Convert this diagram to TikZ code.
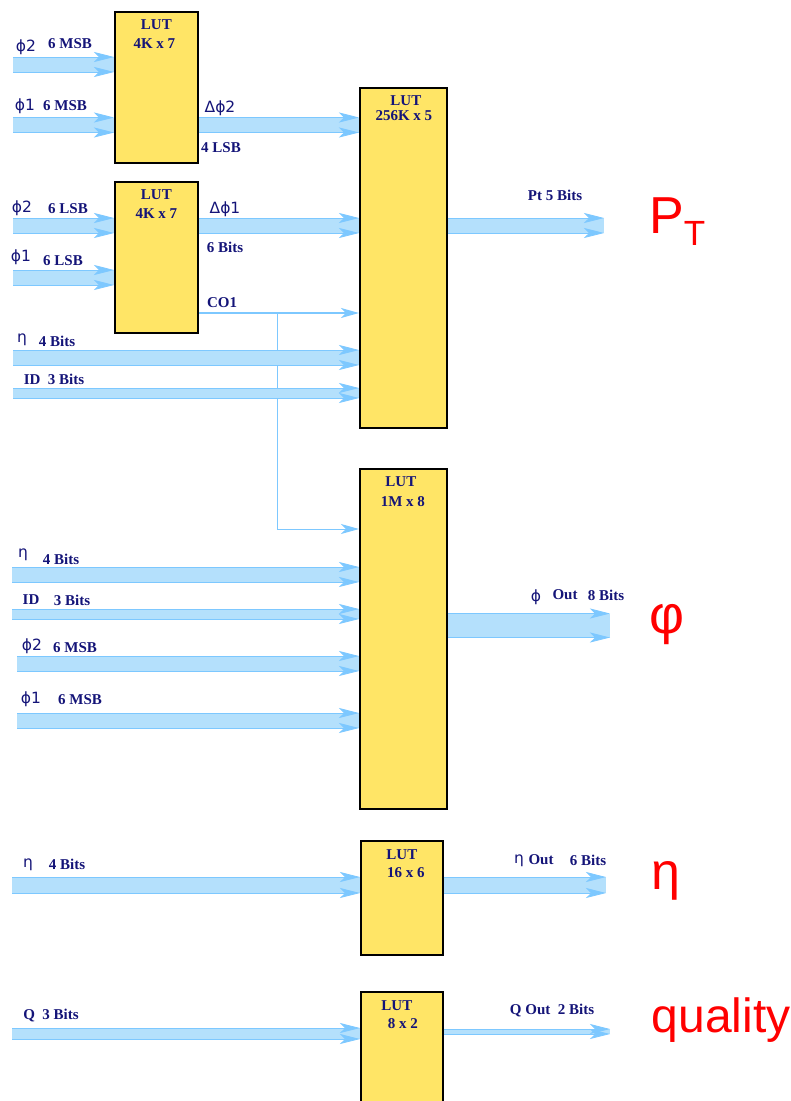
\documentclass[tikz,border=0pt]{standalone}
\usepackage{fontspec}
\setmainfont{Liberation Serif}
\newfontfamily\greekfont{DejaVu Sans}
\newfontfamily\redfont{Liberation Sans}
\usetikzlibrary{arrows.meta,calc}
\definecolor{busfill}{RGB}{180,224,252}
\definecolor{busedge}{RGB}{125,200,255}
\definecolor{lutyellow}{RGB}{255,229,102}
\definecolor{labnavy}{RGB}{20,20,120}
\tikzset{lut/.style={draw, line width=1.8pt, fill=lutyellow, anchor=north west, inner sep=0},
  bus/.style={draw=busfill, line width=#1pt,
    postaction={draw=busedge, line width=0.8pt, -{Stealth[length=20pt,width=10pt,inset=5pt]}, transform canvas={yshift=#1pt/2}},
    postaction={draw=busedge, line width=0.8pt, -{Stealth[length=20pt,width=10pt,inset=5pt]}, transform canvas={yshift=-#1pt/2}}},
  wire/.style={draw=busedge, line width=1pt},
  lbl/.style={font=\fontsize{15}{17}\selectfont\bfseries, text=labnavy, inner sep=0},
  gk/.style={font=\greekfont\fontsize{15.5}{17}\selectfont, text=labnavy, inner sep=0},
  big/.style={font=\redfont\fontsize{#1}{#1}\selectfont, text=red, inner sep=0}}

\begin{document}
\begin{tikzpicture}[x=1pt, y=-1pt]
  \useasboundingbox (0,0) rectangle (791,1101);
  % look-up tables
  \node[lut, minimum width=83pt, minimum height=151pt] (lutA) at (114,11) {};
  \node[lut, minimum width=83pt, minimum height=151pt] (lutB) at (114,181) {};
  \node[lut, minimum width=87pt, minimum height=340pt] (lutC) at (359,87) {};
  \node[lut, minimum width=87pt, minimum height=340pt] (lutD) at (359,468) {};
  \node[lut, minimum width=82pt, minimum height=114pt] (lutE) at (360,840) {};
  \node[lut, minimum width=82pt, minimum height=130pt] (lutF) at (360,991) {};
  \node[lbl] (tA1) at ($(lutA.north)+(0,14)$) {LUT};
  \node[lbl] (tA2) at ($(lutA.north)+(-2,33)$) {4K x 7};
  \node[lbl] (tB1) at ($(lutB.north)+(0,14)$) {LUT};
  \node[lbl] (tB2) at ($(lutB.north)+(0,33)$) {4K x 7};
  \node[lbl] (tC1) at ($(lutC.north)+(2.5,14)$) {LUT};
  \node[lbl] (tC2) at ($(lutC.north)+(0.5,29)$) {256K x 5};
  \node[lbl] (tD1) at ($(lutD.north)+(-2.5,14)$) {LUT};
  \node[lbl] (tD2) at ($(lutD.north)+(-0.5,34)$) {1M x 8};
  \node[lbl] (tE1) at ($(lutE.north)+(0,15)$) {LUT};
  \node[lbl] (tE2) at ($(lutE.north)+(4,33)$) {16 x 6};
  \node[lbl] (tF1) at ($(lutF.north)+(-5,15)$) {LUT};
  \node[lbl] (tF2) at ($(lutF.north)+(1,33)$) {8 x 2};

  % free ends
  \coordinate (inA2) at (13,64.5);
  \coordinate (inA1) at (13,125);
  \coordinate (inB2) at (13,225.5);
  \coordinate (inB1) at (13,277.5);
  \coordinate (etaC) at (13,357.5);
  \coordinate (idC) at (13,393);
  \coordinate (etaD) at (12,574.5);
  \coordinate (idD) at (12,614);
  \coordinate (phiD2) at (17,663.5);
  \coordinate (phiD1) at (17,720.5);
  \coordinate (etaE) at (12,885);
  \coordinate (qF) at (12,1033.5);
  \coordinate (ptOut) at (604,225.5);
  \coordinate (phiOut) at (610,625.5);
  \coordinate (etaOut) at (606,885);
  \coordinate (qOut) at (610,1031.5);
  \coordinate (dphiB) at (0,125);
  \coordinate (co) at (277,313);
  \coordinate (coDown) at (277,529);

  % buses
  \draw[bus=15] (inA2) -- (inA2 -| lutA.west);
  \draw[bus=15] (inA1) -- (inA1 -| lutA.west);
  \draw[bus=15] (dphiB -| lutA.east) -- (dphiB -| lutC.west);
  \draw[bus=15] (inB2) -- (inB2 -| lutB.west);
  \draw[bus=15] (inB1) -- (inB1 -| lutB.west);
  \draw[bus=15] (inB2 -| lutB.east) -- (inB2 -| lutC.west);
  \draw[wire, line width=2pt] (co -| lutB.east) -- (co);
  \draw[wire, line width=2pt, -{Stealth[length=18pt,width=10pt,inset=5pt]}] (co) -- (co -| lutC.west);
  \draw[wire, -{Stealth[length=18pt,width=10pt,inset=5pt]}] (co) -- (coDown) -- (coDown -| lutD.west);
  \draw[bus=15] (etaC) -- (etaC -| lutC.west);
  \draw[bus=10] (idC) -- (idC -| lutC.west);
  \draw[bus=15] (ptOut -| lutC.east) -- (ptOut);
  \draw[bus=15] (etaD) -- (etaD -| lutD.west);
  \draw[bus=10] (idD) -- (idD -| lutD.west);
  \draw[bus=15] (phiD2) -- (phiD2 -| lutD.west);
  \draw[bus=15] (phiD1) -- (phiD1 -| lutD.west);
  \draw[bus=24] (phiOut -| lutD.east) -- (phiOut);
  \draw[bus=16] (etaE) -- (etaE -| lutE.west);
  \draw[bus=16] (etaOut -| lutE.east) -- (etaOut);
  \draw[bus=11] (qF) -- (qF -| lutF.west);
  \draw[bus=5] (qOut -| lutF.east) -- (qOut);

  % labels
  \node[gk] (lphiA2) at (26,47) {ϕ2};
  \node[lbl] (lmsbA2) at (70,44) {6 MSB};
  \node[gk] (lphiA1) at (25,106) {ϕ1};
  \node[lbl] (lmsbA1) at (65,106) {6 MSB};
  \node[gk] (ldphi2) at (220,108) {Δϕ2};
  \node[lbl] (llsb4) at (221,148) {4 LSB};
  \node[gk] (lphiB2) at (22,208) {ϕ2};
  \node[lbl] (llsbB2) at (68,209) {6 LSB};
  \node[gk] (lphiB1) at (21,257) {ϕ1};
  \node[lbl] (llsbB1) at (63,261) {6 LSB};
  \node[gk] (ldphi1) at (225,209) {Δϕ1};
  \node[lbl] (lbits6) at (225,247) {6 Bits};
  \node[lbl] (lco) at (222,303) {CO1};
  \node[gk] (letaC) at (22,340) {η};
  \node[lbl] (lbitsC) at (57,341) {4 Bits};
  \node[lbl] (lidC) at (54,379) {ID~~3 Bits};
  \node[lbl] (lpt) at (555,195) {Pt 5 Bits};
  \node[gk] (letaD) at (23,555) {η};
  \node[lbl] (lbitsD) at (61,559) {4 Bits};
  \node[lbl] (lidD) at (31,600) {ID};
  \node[lbl] (lidbD) at (72,600) {3 Bits};
  \node[gk] (lphiD2) at (32,646) {ϕ2};
  \node[lbl] (lmsbD2) at (75,648) {6 MSB};
  \node[gk] (lphiD1) at (31,699) {ϕ1};
  \node[lbl] (lmsbD1) at (80,700) {6 MSB};
  \node[gk] (lphiO) at (536,597) {ϕ};
  \node[lbl] (loutD) at (565,595) {Out};
  \node[lbl] (lbitsO) at (606,595) {8 Bits};
  \node[gk] (letaE) at (28,865) {η};
  \node[lbl] (lbitsE) at (67,864) {4 Bits};
  \node[gk] (letaO) at (519,861) {η};
  \node[lbl] (loutE) at (541,860) {Out};
  \node[lbl] (lbitsEO) at (588,860) {6 Bits};
  \node[lbl] (lq) at (51,1015) {Q~~3 Bits};
  \node[lbl] (lqo) at (552,1010) {Q Out~~2 Bits};

  % outputs
  \node[big=52, anchor=base west] (rpt) at (649,233) {P\raisebox{-12pt}{\fontsize{35}{35}\selectfont T}};
  \node[big=54] (rphi) at (667,625) {φ};
  \node[big=52] (reta) at (666,881) {η};
  \node[big=48] (rq) at (721,1020) {quality};
\end{tikzpicture}
\end{document}
